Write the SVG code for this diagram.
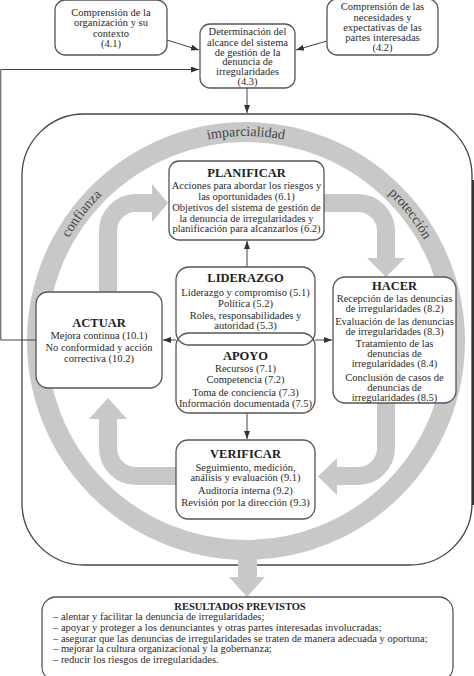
<svg xmlns="http://www.w3.org/2000/svg" width="474" height="676" viewBox="0 0 474 676">
<style>
.bg{fill:#fff}
.box{fill:#fff;stroke:#555;stroke-width:1.3}
.nofill{fill:none;stroke:#555;stroke-width:1.3}
.t{font-family:"Liberation Serif","DejaVu Serif",serif;font-size:10.5px;fill:#2a2a2a;text-anchor:middle}
.h{font-size:12.5px;font-weight:bold;fill:#1e1e1e}
.l{text-anchor:start;font-size:10.5px}
.ring{fill:none;stroke:#c8c8c8;stroke-width:20}
.band{fill:none;stroke:#c8c8c8;stroke-width:18}
.head{fill:#c8c8c8}
.rt{font-family:"Liberation Serif","DejaVu Serif",serif;font-size:14px;fill:#444;text-anchor:middle}
.conn{fill:none;stroke:#444;stroke-width:1;marker-end:url(#arr)}
</style>
<defs>
<marker id="arr" markerUnits="userSpaceOnUse" markerWidth="8" markerHeight="6" refX="8" refY="3" orient="auto">
<path d="M0,0 L8,3 L0,6 z" fill="#333"/>
</marker>
<path id="arc" d="M41,341 A205 205 0 0 1 451,341"/>
</defs>
<rect class="bg" x="0" y="0" width="474" height="676"/>

<g id="outer">
<rect x="22" y="114" width="450" height="451" rx="62" fill="#fff" stroke="#444" stroke-width="1.3"/>
<line x1="473" y1="180" x2="473" y2="505" stroke="#333" stroke-width="2.2"/>
</g>

<g id="ring">
<circle class="ring" cx="246" cy="341" r="209"/>
<text class="rt"><textPath href="#arc" startOffset="21%">confianza</textPath></text>
<text class="rt"><textPath href="#arc" startOffset="50%">imparcialidad</textPath></text>
<text class="rt"><textPath href="#arc" startOffset="79%">protección</textPath></text>
</g>

<g id="cycle">
<path class="band" d="M108,292 L108,231 A28 28 0 0 1 136,203 L153,203"/>
<polygon class="head" points="152,184 152,222 168,203"/>
<path class="band" d="M324,203 L358,203 A28 28 0 0 1 386,231 L386,259"/>
<polygon class="head" points="367,258 405,258 386,277"/>
<path class="band" d="M386,403 L386,448 A28 28 0 0 1 358,476 L336,476"/>
<polygon class="head" points="337,458 337,495 318,476.5"/>
<path class="band" d="M176,476 L136,476 A28 28 0 0 1 108,448 L108,418"/>
<polygon class="head" points="89,419 127,419 108,398"/>
<polygon class="head" points="238,555 257,555 257,577 265,577 247,597 229,577 238,577"/>
</g>

<g id="connectors">
<path class="conn" d="M167,40 L199,50"/>
<path class="conn" d="M327,41 L296,50"/>
<path class="conn" d="M36,340 L0.8,340 L0.8,69.5 L199,69.5"/>
<path class="conn" d="M247,88 L247,113"/>
<path class="conn" d="M247,267 L247,241"/>
<path class="conn" d="M247,413 L247,439"/>
<path class="conn" d="M176,340 L163,340"/>
<path class="conn" d="M315,340 L332,340"/>
</g>

<g id="n41">
<rect class="box" x="55" y="0" width="112" height="55" rx="10"/>
<text class="t" x="111" y="15.5">Comprensión de la</text>
<text class="t" x="111" y="26">organización y su</text>
<text class="t" x="111" y="36.5">contexto</text>
<text class="t" x="111" y="47">(4.1)</text>
</g>

<g id="n42">
<rect class="box" x="327" y="-1" width="111" height="56" rx="10"/>
<text class="t" x="382.5" y="10.2">Comprensión de las</text>
<text class="t" x="382.5" y="20.5">necesidades y</text>
<text class="t" x="382.5" y="30.8">expectativas de las</text>
<text class="t" x="382.5" y="41">partes interesadas</text>
<text class="t" x="382.5" y="51.3">(4.2)</text>
</g>

<g id="n43">
<rect class="box" x="200" y="24" width="95" height="64" rx="10"/>
<text class="t" x="247.5" y="35.3">Determinación del</text>
<text class="t" x="247.5" y="45.5">alcance del sistema</text>
<text class="t" x="247.5" y="55.5">de gestión de la</text>
<text class="t" x="247.5" y="65.3">denuncia de</text>
<text class="t" x="247.5" y="75.3">irregularidades</text>
<text class="t" x="247.5" y="85.3">(4.3)</text>
</g>

<g id="planificar">
<rect class="box" x="169" y="161" width="155" height="79" rx="10"/>
<text class="t h" x="246.5" y="176.5">PLANIFICAR</text>
<text class="t" x="246.5" y="189">Acciones para abordar los riesgos y</text>
<text class="t" x="246.5" y="199.5">las oportunidades (6.1)</text>
<text class="t" x="246.5" y="211">Objetivos del sistema de gestión de</text>
<text class="t" x="246.5" y="221.5">la denuncia de irregularidades y</text>
<text class="t" x="246.5" y="232">planificación para alcanzarlos (6.2)</text>
</g>

<g id="liderazgo">
<rect class="box" x="176" y="267" width="139" height="78" rx="13"/>
<text class="t h" x="245.5" y="281.5">LIDERAZGO</text>
<text class="t" x="245.5" y="295.5">Liderazgo y compromiso (5.1)</text>
<text class="t" x="245.5" y="306.5">Política (5.2)</text>
<text class="t" x="245.5" y="318.5">Roles, responsabilidades y</text>
<text class="t" x="245.5" y="328.5">autoridad (5.3)</text>
</g>

<g id="apoyo">
<rect class="nofill" x="176" y="333" width="139" height="80" rx="13"/>
<text class="t h" x="245.5" y="359.5">APOYO</text>
<text class="t" x="245.5" y="371.5">Recursos (7.1)</text>
<text class="t" x="245.5" y="382.5">Competencia (7.2)</text>
<text class="t" x="245.5" y="395.5">Toma de conciencia (7.3)</text>
<text class="t" x="245.5" y="406.5">Información documentada (7.5)</text>
</g>

<g id="actuar">
<rect class="box" x="36" y="292" width="126" height="96" rx="12"/>
<text class="t h" x="99" y="326.5">ACTUAR</text>
<text class="t" x="99" y="338.5">Mejora continua (10.1)</text>
<text class="t" x="99" y="350.5">No conformidad y acción</text>
<text class="t" x="99" y="361.5">correctiva (10.2)</text>
</g>

<g id="hacer">
<rect class="box" x="333" y="277" width="123" height="126" rx="12"/>
<text class="t h" x="394.5" y="289.5">HACER</text>
<text class="t" x="394.5" y="301.5">Recepción de las denuncias</text>
<text class="t" x="394.5" y="311.5">de irregularidades (8.2)</text>
<text class="t" x="394.5" y="324.5">Evaluación de las denuncias</text>
<text class="t" x="394.5" y="334.5">de irregularidades (8.3)</text>
<text class="t" x="394.5" y="346.5">Tratamiento de las</text>
<text class="t" x="394.5" y="356.5">denuncias de</text>
<text class="t" x="394.5" y="366.5">irregularidades (8.4)</text>
<text class="t" x="394.5" y="380.5">Conclusión de casos de</text>
<text class="t" x="394.5" y="390.5">denuncias de</text>
<text class="t" x="394.5" y="400.5">irregularidades (8.5)</text>
</g>

<g id="verificar">
<rect class="box" x="176" y="440" width="139" height="79" rx="12"/>
<text class="t h" x="245.5" y="457.5">VERIFICAR</text>
<text class="t" x="245.5" y="470.5">Seguimiento, medición,</text>
<text class="t" x="245.5" y="480.5">análisis y evaluación (9.1)</text>
<text class="t" x="245.5" y="493.5">Auditoría interna (9.2)</text>
<text class="t" x="245.5" y="505.5">Revisión por la dirección (9.3)</text>
</g>

<g id="resultados">
<rect class="box" x="42" y="597" width="411" height="84" rx="14"/>
<text class="t" x="240" y="609.5" style="font-weight:bold;font-size:10.5px;fill:#1e1e1e">RESULTADOS PREVISTOS</text>
<text class="t l" x="53" y="620.3">– alentar y facilitar la denuncia de irregularidades;</text>
<text class="t l" x="53" y="631">– apoyar y proteger a los denunciantes y otras partes interesadas involucradas;</text>
<text class="t l" x="53" y="641.7">– asegurar que las denuncias de irregularidades se traten de manera adecuada y oportuna;</text>
<text class="t l" x="53" y="652.4">– mejorar la cultura organizacional y la gobernanza;</text>
<text class="t l" x="53" y="663">– reducir los riesgos de irregularidades.</text>
</g>
</svg>
